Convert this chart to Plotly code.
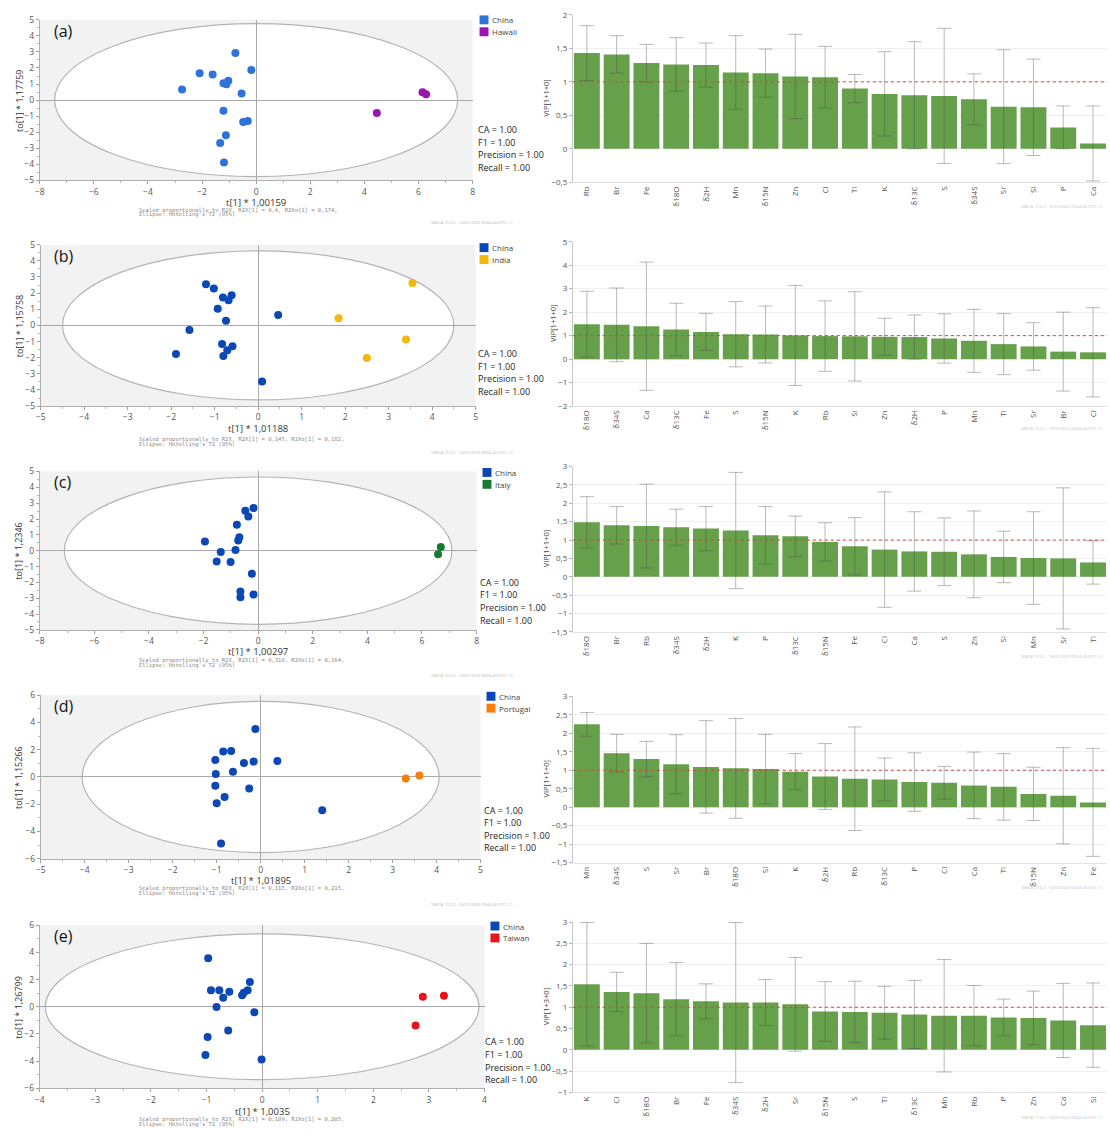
import plotly.graph_objects as go

W, H = 1110, 1140

# ---------------- OPLS-DA score plots: t[1] (x) vs to[1] (y) ----------------
a_china_t = [-0.77, -0.18, -2.09, -1.61, -1.03, -1.21, -1.10, -2.74, -0.54, -1.21, -0.48, -0.31, -1.12, -1.33, -1.19]
a_china_to = [2.94, 1.87, 1.67, 1.60, 1.21, 1.05, 0.99, 0.66, 0.41, -0.66, -1.36, -1.30, -2.20, -2.67, -3.89]
a_hawaii_t = [4.46, 6.15, 6.28]
a_hawaii_to = [-0.80, 0.49, 0.37]

b_china_t = [-1.20, -1.02, -0.81, -0.61, -0.68, -0.93, -0.74, 0.46, -1.58, -0.83, -0.59, -0.71, -0.80, -1.89, 0.09]
b_china_to = [2.55, 2.28, 1.73, 1.87, 1.56, 1.03, 0.28, 0.64, -0.28, -1.16, -1.30, -1.54, -1.89, -1.77, -3.47]
b_india_t = [3.55, 1.85, 3.40, 2.50]
b_india_to = [2.62, 0.44, -0.88, -2.02]

c_china_t = [-0.17, -0.47, -0.36, -0.78, -0.69, -0.73, -1.95, -0.83, -1.37, -1.52, -1.01, -0.23, -0.65, -0.17, -0.65]
c_china_to = [2.69, 2.52, 2.15, 1.63, 0.85, 0.65, 0.58, 0.04, -0.08, -0.69, -0.71, -1.46, -2.58, -2.77, -2.94]
c_italy_t = [6.69, 6.59]
c_italy_to = [0.23, -0.23]

d_china_t = [-0.12, -0.85, -0.67, -1.03, -0.38, -0.16, 0.38, -0.63, -1.02, -1.03, -0.26, -0.82, -1.00, 1.40, -0.90]
d_china_to = [3.52, 1.88, 1.90, 1.25, 1.03, 1.13, 1.18, 0.38, 0.21, -0.64, -0.84, -1.47, -1.93, -2.44, -4.88]
d_portugal_t = [3.30, 3.61]
d_portugal_to = [-0.11, 0.11]

e_china_t = [-0.97, -0.92, -0.77, -0.59, -0.70, -0.36, -0.33, -0.26, -0.22, -0.82, -0.14, -0.61, -0.98, -1.02, -0.01]
e_china_to = [3.56, 1.22, 1.22, 1.10, 0.66, 0.85, 1.02, 1.22, 1.82, -0.01, -0.40, -1.75, -2.23, -3.54, -3.88]
e_taiwan_t = [2.89, 3.27, 2.76]
e_taiwan_to = [0.74, 0.81, -1.37]

# Hotelling's T2 (95%) ellipse semi-axes (t, to)
a_ellipse = (7.45, 4.77)
b_ellipse = (4.50, 4.62)
c_ellipse = (7.10, 4.65)
d_ellipse = (4.06, 5.55)
e_ellipse = (3.90, 5.35)

# ---------------- VIP plots (value, jack-knife interval half-width) ----------------
a_vip_vars = ["Rb", "Br", "Fe", "δ18O", "δ2H", "Mn", "δ15N", "Zn", "Cl", "Ti", "K", "δ13C", "S", "δ34S", "Sr", "Si", "P", "Ca"]
a_vip_vals = [1.43, 1.41, 1.28, 1.26, 1.25, 1.14, 1.13, 1.08, 1.07, 0.90, 0.82, 0.80, 0.79, 0.74, 0.63, 0.62, 0.32, 0.08]
a_vip_err = [0.41, 0.28, 0.28, 0.40, 0.33, 0.55, 0.36, 0.63, 0.46, 0.21, 0.63, 0.80, 1.01, 0.38, 0.85, 0.72, 0.32, 0.56]

b_vip_vars = ["δ18O", "δ34S", "Ca", "δ13C", "Fe", "S", "δ15N", "K", "Rb", "Si", "Zn", "δ2H", "P", "Mn", "Ti", "Sr", "Br", "Cl"]
b_vip_vals = [1.49, 1.46, 1.40, 1.26, 1.16, 1.06, 1.05, 1.01, 0.98, 0.97, 0.95, 0.94, 0.88, 0.78, 0.64, 0.54, 0.32, 0.29]
b_vip_err = [1.40, 1.57, 2.73, 1.12, 0.79, 1.39, 1.21, 2.13, 1.50, 1.90, 0.79, 0.94, 1.05, 1.34, 1.30, 1.01, 1.68, 1.90]

c_vip_vars = ["δ18O", "Br", "Rb", "δ34S", "δ2H", "K", "P", "δ13C", "δ15N", "Fe", "Cl", "Ca", "S", "Zn", "Si", "Mn", "Sr", "Ti"]
c_vip_vals = [1.48, 1.40, 1.38, 1.35, 1.31, 1.26, 1.13, 1.10, 0.95, 0.83, 0.74, 0.69, 0.68, 0.61, 0.54, 0.51, 0.50, 0.39]
c_vip_err = [0.70, 0.51, 1.14, 0.49, 0.60, 1.58, 0.78, 0.55, 0.52, 0.78, 1.57, 1.08, 0.92, 1.18, 0.70, 1.26, 1.92, 0.59]

d_vip_vars = ["Mn", "δ34S", "S", "Sr", "Br", "δ18O", "Si", "K", "δ2H", "Rb", "δ13C", "P", "Cl", "Ca", "Ti", "δ15N", "Zn", "Fe"]
d_vip_vals = [2.24, 1.46, 1.30, 1.16, 1.09, 1.05, 1.03, 0.96, 0.83, 0.77, 0.75, 0.68, 0.66, 0.59, 0.55, 0.36, 0.31, 0.13]
d_vip_err = [0.32, 0.51, 0.48, 0.80, 1.25, 1.35, 0.94, 0.49, 0.89, 1.40, 0.58, 0.79, 0.44, 0.90, 0.90, 0.72, 1.30, 1.46]

e_vip_vars = ["K", "Cl", "δ18O", "Br", "Fe", "δ34S", "δ2H", "Sr", "δ15N", "S", "Ti", "δ13C", "Mn", "Rb", "P", "Zn", "Ca", "Si"]
e_vip_vals = [1.54, 1.36, 1.33, 1.19, 1.14, 1.11, 1.11, 1.07, 0.90, 0.89, 0.87, 0.83, 0.80, 0.80, 0.76, 0.75, 0.69, 0.58]
e_vip_err = [1.45, 0.46, 1.17, 0.86, 0.41, 1.88, 0.54, 1.10, 0.70, 0.72, 0.62, 0.80, 1.32, 0.71, 0.43, 0.63, 0.87, 0.99]

# ---------------- styling ----------------
FONT = "Open Sans, Noto Sans, sans-serif"
MONO = "DejaVu Sans Mono, Liberation Mono, monospace"
TICK_COLOR = "#555555"
BAR_COLOR = "#66a04a"
CHINA_LIGHT = "#2f72da"
CHINA_DARK = "#0b47b5"

score_panels = [
    dict(tag="(a)", china=(a_china_t, a_china_to), other=(a_hawaii_t, a_hawaii_to), other_name="Hawaii",
         china_color=CHINA_LIGHT, other_color="#9c12b3", ell=a_ellipse,
         xr=(-8, 8), xd=2, yr=(-5, 5), yd=1, xdom=(35, 471), ydom=(14, 176),
         xlab="t[1] * 1,00159", ylab="to[1] * 1,17759", r2=("0,4", "0,174"),
         stats=(474, 125), legend=(478, 14), xlab_y=198, note_y=206, wm_y=219),
    dict(tag="(b)", china=(b_china_t, b_china_to), other=(b_india_t, b_india_to), other_name="India",
         china_color=CHINA_DARK, other_color="#f4b80a", ell=b_ellipse,
         xr=(-5, 5), xd=1, yr=(-5, 5), yd=1, xdom=(36, 474), ydom=(241, 404),
         xlab="t[1] * 1,01188", ylab="to[1] * 1,15758", r2=("0,145", "0,182"),
         stats=(474, 351), legend=(478, 244), xlab_y=427, note_y=438, wm_y=451),
    dict(tag="(c)", china=(c_china_t, c_china_to), other=(c_italy_t, c_italy_to), other_name="Italy",
         china_color=CHINA_DARK, other_color="#177a30", ell=c_ellipse,
         xr=(-8, 8), xd=2, yr=(-5, 5), yd=1, xdom=(35, 475), ydom=(470, 630),
         xlab="t[1] * 1,00297", ylab="to[1] * 1,2346", r2=("0,318", "0,164"),
         stats=(476, 582), legend=(481, 471), xlab_y=652, note_y=661, wm_y=676),
    dict(tag="(d)", china=(d_china_t, d_china_to), other=(d_portugal_t, d_portugal_to), other_name="Portugal",
         china_color=CHINA_DARK, other_color="#f77f07", ell=d_ellipse,
         xr=(-5, 5), xd=1, yr=(-6, 6), yd=2, xdom=(36, 479), ydom=(696, 861),
         xlab="t[1] * 1,01895", ylab="to[1] * 1,15266", r2=("0,115", "0,215"),
         stats=(480, 812), legend=(485, 697), xlab_y=883, note_y=891, wm_y=907),
    dict(tag="(e)", china=(e_china_t, e_china_to), other=(e_taiwan_t, e_taiwan_to), other_name="Taiwan",
         china_color=CHINA_DARK, other_color="#e8141c", ell=e_ellipse,
         xr=(-4, 4), xd=1, yr=(-6, 6), yd=2, xdom=(35, 483), ydom=(928, 1093),
         xlab="t[1] * 1,0035", ylab="to[1] * 1,26799", r2=("0,109", "0,205"),
         stats=(481, 1046), legend=(489, 929), xlab_y=1116, note_y=1124, wm_y=None),
]

vip_panels = [
    dict(vars=a_vip_vars, vals=a_vip_vals, err=a_vip_err, yr=(-0.5, 2), yd=0.5, ydom=(9, 178),
         ylab="VIP[1+1+0]", ylab_x=545, wm_y=202),
    dict(vars=b_vip_vars, vals=b_vip_vals, err=b_vip_err, yr=(-2, 5), yd=1, ydom=(238, 404),
         ylab="VIP[1+1+0]", ylab_x=552, wm_y=427),
    dict(vars=c_vip_vars, vals=c_vip_vals, err=c_vip_err, yr=(-1.5, 3), yd=0.5, ydom=(465, 632),
         ylab="VIP[1+1+0]", ylab_x=545, wm_y=657),
    dict(vars=d_vip_vars, vals=d_vip_vals, err=d_vip_err, yr=(-1.5, 3), yd=0.5, ydom=(697, 865),
         ylab="VIP[1+1+0]", ylab_x=545, wm_y=890),
    dict(vars=e_vip_vars, vals=e_vip_vals, err=e_vip_err, yr=(-1, 3), yd=0.5, ydom=(925, 1097),
         ylab="VIP[1+3+0]", ylab_x=545, wm_y=1122),
]
VIP_XDOM = (572, 1110)
STAMP = "SIMCA 17.0.2 - 16/01/2023 09:44:44 (UTC+1)"


def fx(px):
    return px / W


def fy(py):
    return 1 - py / H


def axis_names(i):
    s = "" if i == 1 else str(i)
    return "x" + s, "y" + s, "xaxis" + s, "yaxis" + s


fig = go.Figure()
layout = {}
shapes = []
annotations = []


def text(x, y, s, size, color="#222", family=FONT, xanchor="left", yanchor="middle", angle=0):
    annotations.append(dict(x=fx(x), y=fy(y), xref="paper", yref="paper", text=s, showarrow=False,
                            xanchor=xanchor, yanchor=yanchor, textangle=angle,
                            font=dict(family=family, size=size, color=color)))


# ---- score plots ----
for i, p in enumerate(score_panels, start=1):
    xn, yn, xk, yk = axis_names(i)
    (ct, cto), (ot, oto) = p["china"], p["other"]
    fig.add_trace(go.Scatter(x=ct, y=cto, mode="markers", xaxis=xn, yaxis=yn, name="China",
                             marker=dict(size=8, color=p["china_color"])))
    fig.add_trace(go.Scatter(x=ot, y=oto, mode="markers", xaxis=xn, yaxis=yn, name=p["other_name"],
                             marker=dict(size=8, color=p["other_color"])))
    common = dict(showgrid=False, showline=True, linecolor="#b0b0b0", linewidth=1,
                  ticks="outside", ticklen=3, tickcolor="#a0a0a0",
                  zeroline=True, zerolinecolor="#a9a9a9", zerolinewidth=1,
                  tickfont=dict(family=FONT, size=8.5, color=TICK_COLOR), fixedrange=True)
    layout[xk] = dict(common, domain=[fx(p["xdom"][0]), fx(p["xdom"][1])], anchor=yn,
                      range=list(p["xr"]), dtick=p["xd"], tick0=0,
                      minor=dict(ticks="outside", ticklen=2, tickcolor="#b8b8b8", dtick=p["xd"] / 2))
    layout[yk] = dict(common, domain=[fy(p["ydom"][1]), fy(p["ydom"][0])], anchor=xn,
                      range=list(p["yr"]), dtick=p["yd"], tick0=0,
                      minor=dict(ticks="outside", ticklen=2, tickcolor="#b8b8b8", dtick=p["yd"] / 2))
    # grey plot area with white Hotelling ellipse
    shapes.append(dict(type="rect", xref=xn + " domain", yref=yn + " domain", x0=0, x1=1, y0=0, y1=1,
                       fillcolor="#f2f2f2", line=dict(width=0), layer="below"))
    ea, eb = p["ell"]
    shapes.append(dict(type="circle", xref=xn, yref=yn, x0=-ea, x1=ea, y0=-eb, y1=eb,
                       fillcolor="white", line=dict(color="#b4b4b4", width=1.2), layer="below"))
    # labels
    top = p["ydom"][0]
    text(47, top + 11, p["tag"], 16, "#111")
    x0px = p["xdom"][0] + (0 - p["xr"][0]) / (p["xr"][1] - p["xr"][0]) * (p["xdom"][1] - p["xdom"][0])
    text(x0px, p["xlab_y"], p["xlab"], 9.5, "#333", xanchor="center")
    text(14, (p["ydom"][0] + p["ydom"][1]) / 2, p["ylab"], 9, "#333", xanchor="center", angle=-90)
    r2x, r2xo = p["r2"]
    text(133, p["note_y"], f"Scaled proportionally to R2X, R2X[1] = {r2x}, R2Xo[1] = {r2xo},", 5.5,
         "#8a8a8a", family=MONO)
    text(133, p["note_y"] + 5, "Ellipse: Hotelling's T2 (95%)", 5.5, "#8a8a8a", family=MONO)
    sx, sy = p["stats"]
    for k, line in enumerate(["CA = 1.00", "F1 = 1.00", "Precision = 1.00", "Recall = 1.00"]):
        text(sx, sy + k * 12.7, line, 9, "#222")
    lx, ly = p["legend"]
    for k, (name, col) in enumerate([("China", p["china_color"]), (p["other_name"], p["other_color"])]):
        cy = ly + k * 12
        shapes.append(dict(type="rect", xref="paper", yref="paper", x0=fx(lx), x1=fx(lx + 9),
                           y0=fy(cy + 4.5), y1=fy(cy - 4.5), fillcolor=col, line=dict(width=0)))
        text(lx + 11, cy, name, 8, "#444")
    if p["wm_y"] is not None:
        text(470, p["wm_y"], STAMP, 4, "#b5b5b5", xanchor="center")

# ---- VIP bar plots ----
for j, p in enumerate(vip_panels, start=6):
    xn, yn, xk, yk = axis_names(j)
    fig.add_trace(go.Bar(x=p["vars"], y=p["vals"], xaxis=xn, yaxis=yn,
                         marker=dict(color=BAR_COLOR, line=dict(width=0)),
                         error_y=dict(type="data", array=p["err"], color="rgba(70,70,70,0.38)",
                                      thickness=1, width=7)))
    layout[xk] = dict(domain=[fx(VIP_XDOM[0]), fx(VIP_XDOM[1])], anchor=yn, type="category",
                      range=[-0.47, 17.47], tickangle=-90, ticks="", showgrid=False,
                      showline=True, linecolor="#e2e2e2", fixedrange=True,
                      tickfont=dict(family=FONT, size=8, color=TICK_COLOR))
    layout[yk] = dict(domain=[fy(p["ydom"][1]), fy(p["ydom"][0])], anchor=xn,
                      range=list(p["yr"]), dtick=p["yd"], tick0=0, ticks="outside", ticklen=3,
                      tickcolor="#b5b5b5", showline=True, linecolor="#c8c8c8", showgrid=True,
                      gridcolor="#efefef", zeroline=False, fixedrange=True,
                      tickfont=dict(family=FONT, size=8, color=TICK_COLOR))
    shapes.append(dict(type="line", xref=xn + " domain", yref=yn, x0=0, x1=1, y0=1, y1=1,
                       line=dict(color="#e0413a", width=1, dash="dot"), layer="above"))
    text(p["ylab_x"], (p["ydom"][0] + p["ydom"][1]) / 2, p["ylab"], 7.5, "#444", xanchor="center", angle=-90)
    text(1108, p["wm_y"], STAMP, 4, "#c0c0c0", xanchor="right")

layout.update(dict(width=W, height=H, margin=dict(l=0, r=0, t=0, b=0), autosize=False,
                   paper_bgcolor="white", plot_bgcolor="white", showlegend=False,
                   bargap=0.13, separators=", ", shapes=shapes, annotations=annotations,
                   font=dict(family=FONT)))
fig.update_layout(**layout)
fig.write_html("out.html")
